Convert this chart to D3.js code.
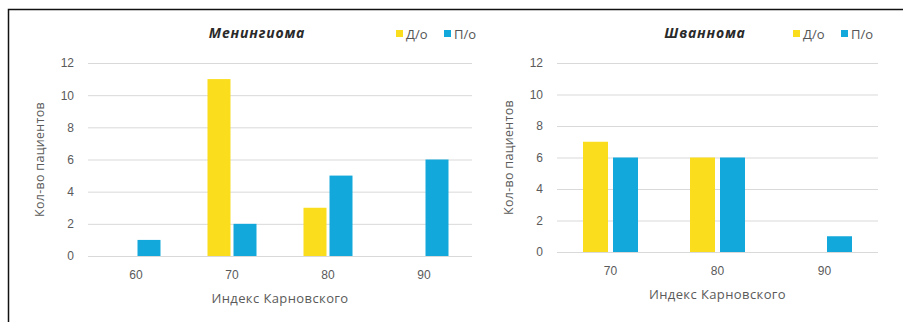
<!DOCTYPE html>
<html>
<head>
<meta charset="utf-8">
<script src="https://cdn.jsdelivr.net/npm/d3@7"></script>
<style>
  body { margin: 0; background: #fff; }
  svg { display: block; font-family: 'Open Sans', 'Noto Sans', sans-serif; }
</style>
</head>
<body>
<svg id="chart" width="903" height="322"></svg>
<script>
// data
const seriesNames = ['Д/о', 'П/о']
const seriesColors = ['#fade1e', '#13a8dc']
const yTicks = [0, 2, 4, 6, 8, 10, 12]

const meningCats = ['60', '70', '80', '90']
const meningBefore = [0, 11, 3, 0]
const meningAfter = [1, 2, 5, 6]

const schwannCats = ['70', '80', '90']
const schwannBefore = [7, 6, 0]
const schwannAfter = [6, 6, 1]

const svg = d3.select('#chart')

// frame around the figure
svg.append('path')
  .attr('d', 'M8.5,322 V9.5 H903')
  .attr('fill', 'none')
  .attr('stroke', '#111')
  .attr('stroke-width', 1.5)

function drawPanel(opts) {
  const { title, cats, before, after, x0, x1, yTop, yBottom, barW, gap } = opts
  const g = svg.append('g')

  const x = d3.scaleBand().domain(cats).range([x0, x1])
  const y = d3.scaleLinear().domain([0, 12]).range([yBottom, yTop])

  // gridlines
  g.append('g').selectAll('line').data(yTicks).join('line')
    .attr('x1', x0).attr('x2', x1)
    .attr('y1', d => y(d) + 0.5).attr('y2', d => y(d) + 0.5)
    .attr('stroke', '#d9d9d9').attr('stroke-width', 1)

  // y ticks
  const yAxis = d3.axisLeft(y).tickValues(yTicks).tickSize(0).tickPadding(0)
  g.append('g')
    .attr('transform', `translate(${x0 - 14},0)`)
    .call(yAxis)
    .call(a => a.select('.domain').remove())
    .call(a => a.selectAll('text').attr('fill', '#5a5a5a').style('font-size', '12px'))

  // x ticks
  const xAxis = d3.axisBottom(x).tickSize(0).tickPadding(0)
  g.append('g')
    .attr('transform', `translate(0,${yBottom + 14})`)
    .call(xAxis)
    .call(a => a.select('.domain').remove())
    .call(a => a.selectAll('text').attr('fill', '#5a5a5a').style('font-size', '12px'))

  // bars
  const rows = cats.map((c, i) => ({ cat: c, vals: [before[i], after[i]] }))
  const grp = g.append('g').selectAll('g').data(rows).join('g')
  grp.selectAll('rect')
    .data(d => d.vals.map((v, k) => ({ cat: d.cat, v, k })).filter(d => d.v > 0))
    .join('rect')
    .attr('x', d => x(d.cat) + x.bandwidth() / 2 + (d.k === 0 ? -gap / 2 - barW : gap / 2))
    .attr('y', d => y(d.v))
    .attr('width', barW)
    .attr('height', d => yBottom - y(d.v))
    .attr('fill', d => seriesColors[d.k])

  // axis titles
  g.append('text')
    .attr('x', (x0 + x1) / 2).attr('y', yBottom + 47)
    .attr('text-anchor', 'middle')
    .attr('fill', '#5a5a5a').style('font-size', '13px')
    .style('letter-spacing', '0.4px')
    .text('Индекс Карновского')

  g.append('text')
    .attr('transform', `translate(${x0 - 44},${(yTop + yBottom) / 2}) rotate(-90)`)
    .attr('text-anchor', 'middle')
    .attr('fill', '#5a5a5a').style('font-size', '12.5px')
    .style('letter-spacing', '0.3px')
    .text('Кол-во пациентов')

  // chart title
  g.append('text')
    .attr('x', opts.titleX).attr('y', 38)
    .attr('text-anchor', 'middle')
    .attr('fill', '#2a2a2a').style('font-size', '14px')
    .style('font-weight', 'bold').style('font-style', 'italic')
    .style('letter-spacing', '0.8px')
    .text(title)

  // legend
  const leg = g.append('g').attr('transform', `translate(${opts.legendX},0)`)
  seriesNames.forEach((name, k) => {
    const lx = k * 48
    leg.append('rect')
      .attr('x', lx).attr('y', 30).attr('width', 7).attr('height', 7)
      .attr('fill', seriesColors[k])
    leg.append('text')
      .attr('x', lx + 10).attr('y', 38.5)
      .attr('fill', '#555').style('font-size', '13px')
      .text(name)
  })
}

drawPanel({
  title: 'Менингиома', cats: meningCats, before: meningBefore, after: meningAfter,
  x0: 88, x1: 472, yTop: 63, yBottom: 256, barW: 23, gap: 3,
  titleX: 257, legendX: 396
})

drawPanel({
  title: 'Шваннома', cats: schwannCats, before: schwannBefore, after: schwannAfter,
  x0: 557, x1: 878, yTop: 63, yBottom: 252, barW: 25, gap: 5,
  titleX: 705, legendX: 793
})
</script>
</body>
</html>
